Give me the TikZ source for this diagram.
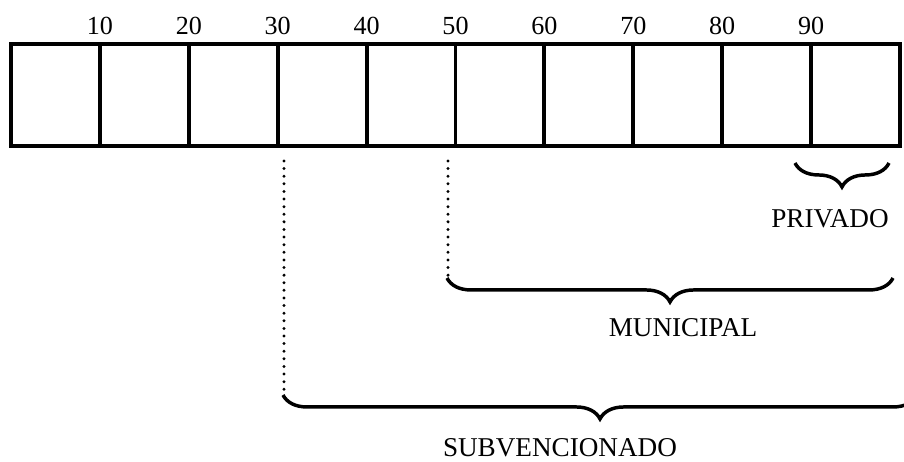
\documentclass[tikz,border=0pt]{standalone}
\usepackage{fontspec}
\setmainfont{Liberation Serif}
\usetikzlibrary{decorations.pathreplacing}

\tikzset{
  cell/.style={draw, line width=1.8pt, minimum width=40.9pt, minimum height=46.9pt, inner sep=0pt},
  tick/.style={anchor=base, inner sep=0pt, font=\fontsize{12}{14}\selectfont},
  guide/.style={line width=1.5pt, line cap=round, dash pattern=on 0pt off 3.5pt},
  curly/.style={decorate, decoration={brace, mirror, amplitude=11pt}, line width=1.6pt},
  sector/.style={anchor=base, inner sep=0pt, font=\fontsize{12.5}{15}\selectfont},
}

\begin{document}
\begin{tikzpicture}[x=0.46pt, y=-0.46pt]
  \clip (0,0) rectangle (904,461);

  \foreach \i in {1,...,10} {
    \node[cell] (c\i) at ({11+88.9*(\i-0.5)}, 95) {};
  }
  \foreach \i in {1,...,9} {
    \pgfmathtruncatemacro{\pct}{10*\i}
    \node[tick] (t\i) at ({11+88.9*\i}, 35) {\pct};
  }

  \coordinate (sub0) at (284,161);
  \coordinate (sub1) at (284,394);
  \coordinate (mun0) at (448,161);
  \coordinate (mun1) at (448,276);
  \draw[guide] (sub0) -- (sub1);
  \draw[guide] (mun0) -- (mun1);

  \coordinate (priA) at (795,163);
  \coordinate (priB) at (889,163);
  \coordinate (munA) at (447,278);
  \coordinate (munB) at (893,278);
  \coordinate (subA) at (283,395);
  \coordinate (subB) at (917,395);
  \draw[curly] (priA) -- (priB);
  \draw[curly] (munA) -- (munB);
  \draw[curly] (subA) -- (subB);

  \node[sector] (privado) at (830,227) {PRIVADO};
  \node[sector] (municipal) at (683,336) {MUNICIPAL};
  \node[sector] (subvencionado) at (560,456) {SUBVENCIONADO};
\end{tikzpicture}
\end{document}
